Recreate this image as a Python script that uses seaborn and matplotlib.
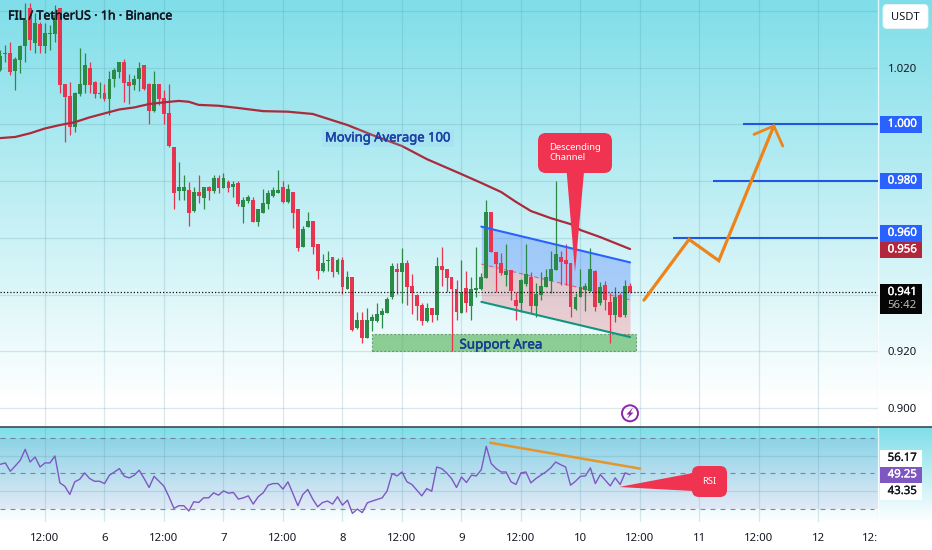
import numpy as np
import matplotlib
matplotlib.use('Agg')
import matplotlib.pyplot as plt
import matplotlib.patheffects as pe
from matplotlib.colors import LinearSegmentedColormap
from matplotlib.patches import FancyBboxPatch, Polygon, Rectangle, Circle
import seaborn as sns

# candles, one per hour, hour 0 = midnight of the 5th
opens = [1.0192,1.0249,1.0251,1.0188,1.0227,1.0278,1.0409,1.0288,1.0354,1.0276,
         1.0318,1.0318,1.0409,1.0141,1.0100,0.9992,1.0106,1.0139,1.0198,1.0151,
         1.0107,1.0110,1.0089,1.0159,1.0186,1.0220,1.0151,1.0138,1.0159,1.0209,
         1.0141,1.0049,1.0141,1.0092,1.0039,0.9921,0.9767,0.9767,0.9769,0.9696,
         0.9761,0.9740,0.9781,0.9767,0.9813,0.9777,0.9798,0.9778,0.9793,0.9710,
         0.9730,0.9734,0.9656,0.9689,0.9720,0.9748,0.9757,0.9781,0.9728,0.9761,
         0.9701,0.9567,0.9640,0.9660,0.9579,0.9485,0.9519,0.9532,0.9481,0.9522,
         0.9419,0.9464,0.9282,0.9311,0.9249,0.9307,0.9307,0.9329,0.9337,0.9391,
         0.9490,0.9481,0.9513,0.9431,0.9399,0.9364,0.9306,0.9352,0.9329,0.9501,
         0.9490,0.9461,0.9419,0.9337,0.9423,0.9360,0.9417,0.9419,0.9460,0.9693,
         0.9552,0.9511,0.9470,0.9487,0.9382,0.9370,0.9437,0.9464,0.9360,0.9399,
         0.9428,0.9448,0.9487,0.9534,0.9522,0.9511,0.9349,0.9393,0.9417,0.9414,
         0.9485,0.9370,0.9434,0.9376,0.9329,0.9399,0.9329,0.9432]
closes = [1.0241,1.0253,1.0186,1.0231,1.0278,1.0368,1.0298,1.0356,1.0278,1.0321,
          1.0321,1.0386,1.0139,1.0098,0.9992,1.0112,1.0141,1.0209,1.0139,1.0106,
          1.0110,1.0089,1.0161,1.0191,1.0220,1.0147,1.0135,1.0161,1.0198,1.0125,
          1.0049,1.0141,1.0089,1.0037,0.9925,0.9757,0.9781,0.9781,0.9689,0.9761,
          0.9748,0.9781,0.9767,0.9813,0.9777,0.9813,0.9775,0.9790,0.9719,0.9734,
          0.9746,0.9656,0.9701,0.9722,0.9760,0.9769,0.9769,0.9728,0.9771,0.9689,
          0.9564,0.9632,0.9660,0.9567,0.9484,0.9511,0.9522,0.9481,0.9522,0.9429,
          0.9464,0.9276,0.9311,0.9249,0.9311,0.9323,0.9331,0.9343,0.9384,0.9501,
          0.9481,0.9511,0.9429,0.9405,0.9360,0.9306,0.9352,0.9329,0.9501,0.9487,
          0.9460,0.9419,0.9340,0.9411,0.9370,0.9420,0.9423,0.9464,0.9693,0.9552,
          0.9508,0.9478,0.9485,0.9413,0.9360,0.9452,0.9473,0.9360,0.9401,0.9431,
          0.9461,0.9491,0.9542,0.9516,0.9508,0.9358,0.9393,0.9428,0.9431,0.9491,
          0.9358,0.9428,0.9382,0.9329,0.9393,0.9323,0.9431,0.9411]
highs = [1.0262,1.0280,1.0289,1.0239,1.0280,1.0429,1.0429,1.0392,1.0362,1.0356,
         1.0350,1.0421,1.0409,1.0141,1.0151,1.0116,1.0268,1.0251,1.0219,1.0153,
         1.0151,1.0141,1.0188,1.0198,1.0221,1.0229,1.0178,1.0174,1.0219,1.0209,
         1.0145,1.0190,1.0141,1.0121,1.0141,0.9921,0.9869,0.9822,0.9798,0.9781,
         0.9822,0.9781,0.9783,0.9822,0.9822,0.9828,0.9804,0.9802,0.9802,0.9743,
         0.9751,0.9743,0.9701,0.9771,0.9769,0.9778,0.9840,0.9802,0.9790,0.9761,
         0.9701,0.9643,0.9693,0.9660,0.9579,0.9544,0.9555,0.9532,0.9528,0.9532,
         0.9484,0.9464,0.9340,0.9340,0.9352,0.9331,0.9372,0.9352,0.9393,0.9511,
         0.9511,0.9564,0.9522,0.9472,0.9403,0.9372,0.9372,0.9352,0.9532,0.9569,
         0.9490,0.9461,0.9452,0.9522,0.9484,0.9461,0.9569,0.9475,0.9734,0.9693,
         0.9552,0.9546,0.9579,0.9487,0.9411,0.9454,0.9579,0.9481,0.9440,0.9481,
         0.9491,0.9555,0.9802,0.9555,0.9579,0.9511,0.9405,0.9491,0.9440,0.9564,
         0.9487,0.9446,0.9450,0.9405,0.9428,0.9405,0.9452,0.9440]
lows = [1.0190,1.0221,1.0174,1.0121,1.0180,1.0221,1.0262,1.0253,1.0253,1.0253,
        1.0262,1.0292,1.0112,0.9939,0.9963,0.9972,1.0100,1.0110,1.0112,1.0094,
        1.0092,1.0083,1.0033,1.0131,1.0163,1.0080,1.0072,1.0121,1.0119,1.0121,
        1.0002,1.0045,1.0069,1.0002,0.9922,0.9702,0.9734,0.9734,0.9642,0.9693,
        0.9722,0.9702,0.9734,0.9760,0.9760,0.9775,0.9763,0.9743,0.9713,0.9654,
        0.9724,0.9656,0.9643,0.9689,0.9702,0.9743,0.9757,0.9722,0.9722,0.9634,
        0.9555,0.9567,0.9638,0.9544,0.9454,0.9481,0.9485,0.9464,0.9473,0.9402,
        0.9419,0.9273,0.9279,0.9231,0.9249,0.9273,0.9305,0.9284,0.9334,0.9384,
        0.9403,0.9372,0.9364,0.9332,0.9311,0.9293,0.9303,0.9305,0.9311,0.9431,
        0.9411,0.9203,0.9311,0.9335,0.9340,0.9311,0.9393,0.9417,0.9458,0.9549,
        0.9411,0.9470,0.9432,0.9382,0.9311,0.9340,0.9432,0.9335,0.9323,0.9382,
        0.9428,0.9405,0.9487,0.9434,0.9434,0.9323,0.9346,0.9393,0.9344,0.9411,
        0.9344,0.9364,0.9346,0.9231,0.9305,0.9323,0.9323,0.9407]
rsi_values = [55.1,55.9,51.2,54.2,57.3,63.5,56.4,59.2,53.6,55.9,
              55.9,59.8,44.7,42.8,38.2,45.3,46.7,50.3,47.1,45.6,
              45.6,44.3,49.0,50.8,52.7,48.4,47.5,49.0,51.8,47.1,
              42.1,48.4,45.6,42.8,36.9,30.4,31.9,31.9,28.9,34.1,
              33.7,36.3,36.3,39.1,37.8,40.2,38.9,39.3,35.6,36.3,
              37.4,32.8,36.9,39.1,43.4,44.3,44.3,41.2,45.3,38.7,
              31.9,38.2,41.0,35.6,31.3,33.7,34.5,32.8,36.9,32.2,
              35.0,27.6,30.0,28.0,33.5,34.5,35.4,36.3,40.2,49.9,
              48.6,50.8,45.3,43.8,40.6,37.4,41.5,40.0,53.6,52.7,
              50.3,47.1,42.1,48.0,44.9,49.0,48.6,52.1,65.2,55.5,
              52.7,50.8,50.8,45.3,43.8,50.3,50.8,44.7,47.1,49.0,
              50.8,53.1,56.4,54.9,53.6,43.4,45.6,48.4,48.6,53.1,
              44.3,49.3,46.2,43.0,47.5,43.8,50.3,49.3]
hours = np.arange(3, 3 + len(opens))

ma_hours = [3,6,9,12,15,18,21,24,27,30,33,36,39,41,43,47,51,56,61,66,
            73,78,84,89,96,100,104,107,110,114,118,120,124,130]
ma_values = [0.9952,0.9956,0.9969,0.9986,0.9998,1.0008,1.0025,1.0039,1.0053,1.0060,
             1.0072,1.0078,1.0083,1.0080,1.0069,1.0066,1.0058,1.0047,1.0045,1.0037,
             0.9998,0.9963,0.9924,0.9878,0.9825,0.9794,0.9762,0.9727,0.9695,0.9670,
             0.9649,0.9628,0.9603,0.9561]

tick_hours = list(range(12, 181, 12))
tick_labels = ['12:00','6','12:00','7','12:00','8','12:00','9','12:00','10','12:00','11','12:00','12','12:']
price_ticks = [0.90,0.92,0.94,0.96,0.98,1.00,1.02,1.04]
price_tick_labels = ['0.900','0.920','','','','','1.020','']

channel_hours = [100,130]
channel_top = [0.9640,0.9514]
channel_mid = [0.9508,0.9382]
channel_low = [0.9375,0.9251]
support_hours = [78,131.2]
support_prices = [0.9200,0.9260]
target_levels = [0.960,0.980,1.000]
target_starts = [138.7,146.7,152.8]
plan_hours = [132.8,141.9,147.9,159]
plan_prices = [0.9381,0.9595,0.9520,0.9995]
barb_hours = [155,159,160.8]
barb_prices = [0.9965,0.9995,0.9924]
last_price = 0.941
rsi_trend_hours = [101.8,132]
rsi_trend_values = [67.2,52.7]

UP = '#2b8a46'
DOWN = '#e8354f'

sns.set_theme(style='white')
plt.rcParams['font.family'] = ['Noto Sans', 'DejaVu Sans']

W, H = 932, 550
fig = plt.figure(figsize=(W / 100, H / 100), dpi=100)


def box(left, top, right, bottom):
    return [left / W, 1 - bottom / H, (right - left) / W, (bottom - top) / H]


def heavier(color, width=0.35):
    # Noto Sans has no medium weight here, so thicken the regular face a little
    return [pe.withStroke(linewidth=width, foreground=color)]


# background panes
bg = fig.add_axes([0, 0, 1, 1], zorder=0)
cmap = LinearSegmentedColormap.from_list('pane', ['#7fdee9', '#ffffff'])
shade = np.ones((H, 1))
shade[:400, 0] = np.linspace(0, 1, 400)
shade[400:427, 0] = 1
shade[427:522, 0] = np.linspace(0, 1, 95)
bg.imshow(shade, cmap=cmap, aspect='auto', extent=(0, W, H, 0), vmin=0, vmax=1)
bg.axis('off')

ax = fig.add_axes(box(0, 0, 878, 426.5), zorder=1)
rsi = fig.add_axes(box(0, 427.5, 878, 522), zorder=1)
for a in (ax, rsi):
    a.patch.set_alpha(0)
    a.set_xlim(2.924, 180.01)
    a.set_xticks(tick_hours)
    a.grid(True, color='#4a8f9e', alpha=0.2, linewidth=0.9)
    a.set_axisbelow(True)
    for side in ('left', 'top', 'bottom'):
        a.spines[side].set_visible(False)
    a.spines['right'].set_color('white')
    a.spines['right'].set_alpha(0.75)
    a.spines['right'].set_linewidth(1)

# main pane
ax.set_ylim(0.89357, 1.04386)
ax.yaxis.tick_right()
ax.set_yticks(price_ticks)
ax.set_yticklabels(price_tick_labels, fontsize=8.2, color='#131722')
for lab in ax.get_yticklabels():
    lab.set_ha('left')
ax.tick_params(axis='y', length=0, pad=7)
ax.tick_params(axis='x', length=0, labelbottom=False)

ax.add_patch(Rectangle((support_hours[0], support_prices[0]), support_hours[1] - support_hours[0],
                       support_prices[1] - support_prices[0], facecolor='#4caf50', alpha=0.6,
                       edgecolor='#2e7d32', linestyle=(0, (2, 1.5)), linewidth=0.8, zorder=1))
ax.fill_between(channel_hours, channel_mid, channel_top, color='#2962ff', alpha=0.28, linewidth=0, zorder=1)
ax.fill_between(channel_hours, channel_low, channel_mid, color='#f23645', alpha=0.22, linewidth=0, zorder=1)

colors = [UP if c >= o else DOWN for o, c in zip(opens, closes)]
ax.vlines(hours, lows, highs, colors=colors, linewidth=0.9, zorder=2)
body_low = np.minimum(opens, closes)
body_size = np.maximum(np.abs(np.array(closes) - np.array(opens)), 0.0004)
ax.bar(hours, body_size, bottom=body_low, width=0.78, color=colors, linewidth=0, zorder=2.5)

sns.lineplot(x=ma_hours, y=ma_values, ax=ax, color='#a92b3c', linewidth=1.6,
             estimator=None, sort=False, zorder=3)
sns.lineplot(x=channel_hours, y=channel_top, ax=ax, color='#2962ff', linewidth=1.5,
             estimator=None, zorder=3)
sns.lineplot(x=channel_hours, y=channel_low, ax=ax, color='#12957f', linewidth=1.5,
             estimator=None, zorder=3)
ax.plot(channel_hours, channel_mid, color='#f23645', linewidth=0.8, linestyle=(0, (4, 3)), alpha=0.7, zorder=1.5)

ax.hlines(target_levels, target_starts, 180, colors='#1f57e0', linewidth=1.5, zorder=3)
ax.axhline(last_price, color='#111111', linewidth=0.9, linestyle=(0, (1, 1.6)), zorder=3)
ax.plot(plan_hours, plan_prices, color='#ee8419', linewidth=2.3, solid_capstyle='round', solid_joinstyle='miter', zorder=4)
ax.plot(barb_hours, barb_prices, color='#ee8419', linewidth=2.0, solid_capstyle='round', zorder=4)

# rsi pane
rsi.set_ylim(22.75, 75.75)
rsi.axhspan(30, 70, color='#7e57c2', alpha=0.1, linewidth=0, zorder=0)
rsi.set_yticks([40, 60])
rsi.tick_params(axis='y', left=False, right=False, labelleft=False)
rsi.set_xticklabels(tick_labels, fontsize=8.2, color='#131722')
rsi.get_xticklabels()[-1].set_ha('right')
rsi.tick_params(axis='x', length=0, pad=8)
rsi.hlines([30, 50, 70], 2.924, 179.2, colors='#667a88', linewidth=0.8, alpha=0.85, linestyle=(0, (4.5, 4.5)), zorder=1)
sns.lineplot(x=hours, y=rsi_values, ax=rsi, color='#7e57c2', linewidth=1.0, estimator=None, zorder=3)
rsi.plot(rsi_trend_hours, rsi_trend_values, color='#e4952b', linewidth=1.8, zorder=3)

# overlay in pixels for tags, callouts and labels
top = fig.add_axes([0, 0, 1, 1], zorder=5)
top.set_xlim(0, W)
top.set_ylim(H, 0)
top.axis('off')
top.patch.set_alpha(0)

top.plot([0, W], [426.7, 426.7], color='#3b4a56', linewidth=1.2)
top.text(8, 16, 'FIL / TetherUS · 1h · Binance', fontsize=9.0, color='#131722', va='center',
         path_effects=heavier('#131722'))
top.text(388, 138, 'Moving Average 100', fontsize=9.4, color='#1c40a3', va='center', ha='center',
         path_effects=heavier('#1c40a3'), bbox=dict(facecolor='#8fc7f0', alpha=0.15, edgecolor='none', pad=2))
top.text(501, 345, 'Support Area', fontsize=9.6, color='#12408f', va='center', ha='center',
         path_effects=heavier('#12408f'))

top.add_patch(FancyBboxPatch((883, 4.5), 45, 24, boxstyle='round,pad=0,rounding_size=4', facecolor='white', edgecolor='#e8f4f6', linewidth=0.6))
top.text(905.5, 17, 'USDT', fontsize=8, color='#131722', ha='center', va='center')

tags = [(116, 132.7, '1.000', '#2962ff', 'white'), (172.7, 189.3, '0.980', '#2962ff', 'white'),
        (225, 241.7, '0.960', '#2962ff', 'white'), (241.7, 258, '0.956', '#b2283a', 'white'),
        (450, 466.7, '56.17', 'white', '#131722'), (466.7, 483, '49.25', '#7e57c2', 'white'),
        (483, 500, '43.35', 'white', '#131722')]
for y0, y1, label, face, ink in tags:
    top.add_patch(Rectangle((880, y0), 42, y1 - y0, facecolor=face, edgecolor='none'))
    top.text(887.7, (y0 + y1) / 2, label, fontsize=8.2, color=ink, va='center', path_effects=heavier(ink, 0.25))
top.add_patch(Rectangle((880, 284), 42, 30, facecolor='#050505', edgecolor='none'))
top.text(887.7, 292.5, '0.941', fontsize=8.2, color='white', va='center', path_effects=heavier('white', 0.25))
top.text(887.7, 306, '56:42', fontsize=8.2, color='#b8b8b8', va='center')

CALLOUT = '#ef3350'
top.add_patch(FancyBboxPatch((538, 133), 74, 40, boxstyle='round,pad=0,rounding_size=8', facecolor=CALLOUT, edgecolor='none'))
top.add_patch(Polygon([(566.7, 172), (584, 172), (575, 272)], closed=True, facecolor=CALLOUT, edgecolor='none'))
top.text(549, 148, 'Descending', fontsize=6.8, fontweight='bold', color='white', va='center')
top.text(549, 157.5, 'Channel', fontsize=6.8, fontweight='bold', color='white', va='center')

top.add_patch(FancyBboxPatch((692, 466), 35, 31, boxstyle='round,pad=0,rounding_size=7', facecolor=CALLOUT, edgecolor='none'))
top.add_patch(Polygon([(693, 473), (619, 487), (693, 491)], closed=True, facecolor=CALLOUT, edgecolor='none'))
top.text(709.5, 481, 'RSI', fontsize=6.8, fontweight='bold', color='white', va='center', ha='center')

top.add_patch(Circle((630, 413.3), 8, facecolor='none', edgecolor='#8e24aa', linewidth=1.4))
top.add_patch(Polygon([(633, 407.5), (626.5, 414.5), (629.5, 414.5), (627, 419), (633.5, 412.5), (630.5, 412.5)],
                      closed=True, facecolor='#8e24aa', edgecolor='none'))

fig.savefig('out.png', dpi=100)
